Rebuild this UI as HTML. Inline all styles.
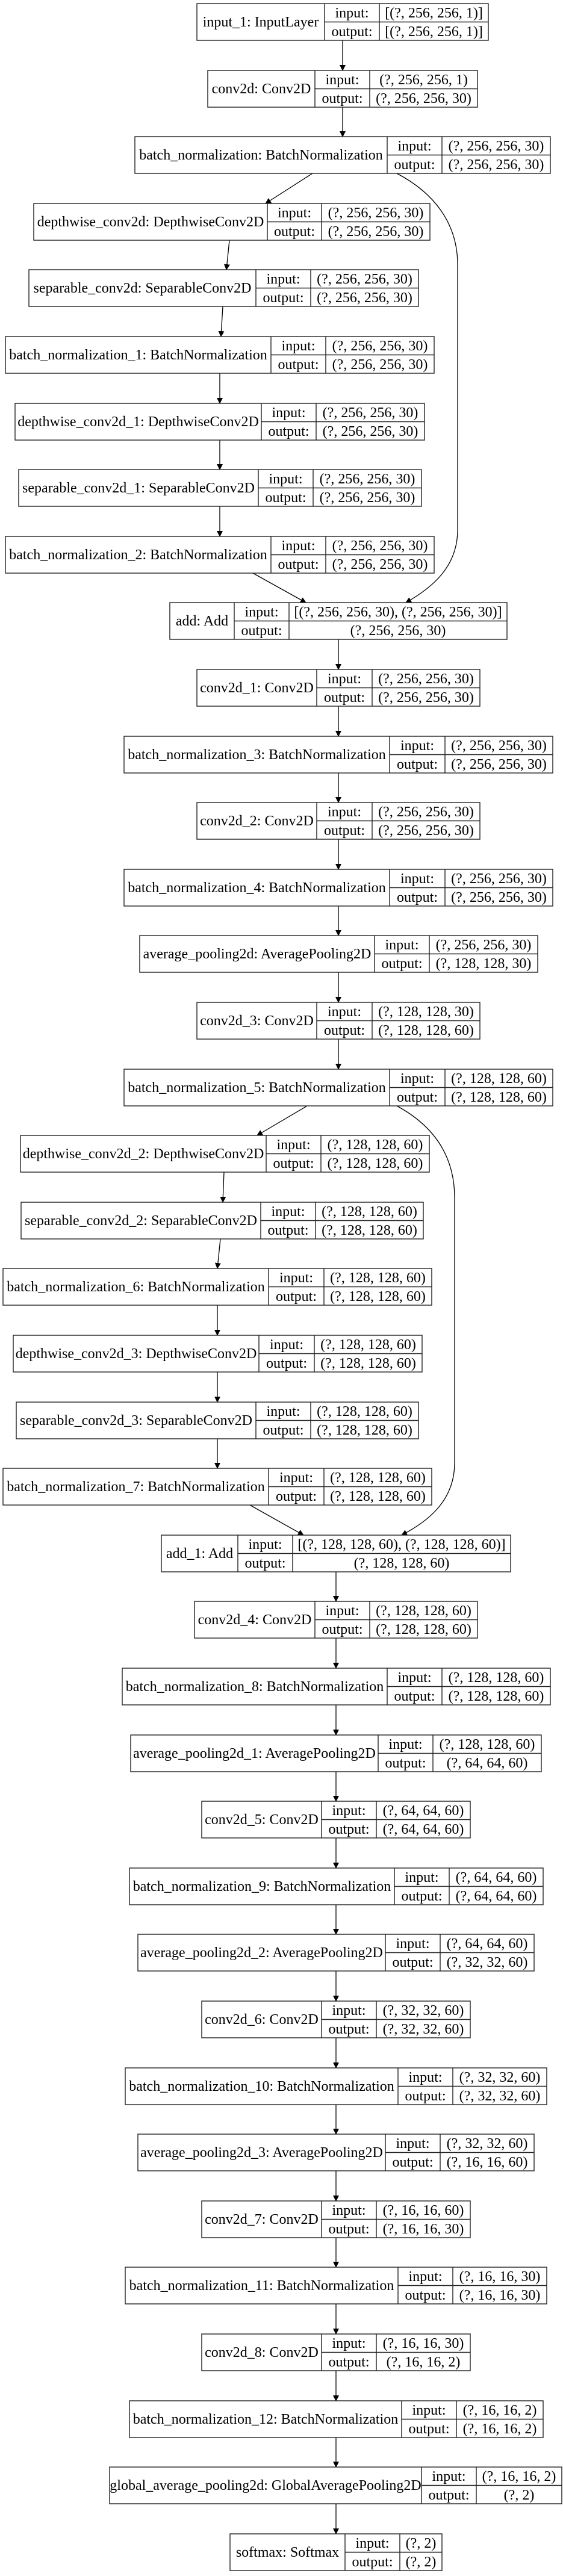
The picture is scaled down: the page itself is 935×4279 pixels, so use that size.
<!DOCTYPE html>
<html><head><meta charset="utf-8"><style>
html,body{margin:0;padding:0;background:#fff;}
svg{display:block}
text{font-family:"Liberation Serif",serif;font-size:24px;fill:#000;text-anchor:middle}
rect,line.b{fill:none;stroke:#222;stroke-width:1.4}
path.e{fill:none;stroke:#000;stroke-width:1.3}
</style></head><body>
<svg width="935" height="4279" viewBox="0 0 935 4279" xmlns="http://www.w3.org/2000/svg">
<defs><marker id="a" markerWidth="10" markerHeight="10" refX="9" refY="5" orient="auto" markerUnits="userSpaceOnUse"><path d="M0,0 L10,5 L0,10 z" fill="#000"/></marker></defs>

<path class="e" marker-end="url(#a)" d="M569,67 L569,117"/>
<path class="e" marker-end="url(#a)" d="M569,178 L569,227"/>
<path class="e" marker-end="url(#a)" d="M519,288 L441,338"/>
<path class="e" marker-end="url(#a)" d="M381,399 L376,448"/>
<path class="e" marker-end="url(#a)" d="M370,509 L367,559"/>
<path class="e" marker-end="url(#a)" d="M365,620 L365,670"/>
<path class="e" marker-end="url(#a)" d="M365,731 L365,780"/>
<path class="e" marker-end="url(#a)" d="M365,841 L365,891"/>
<path class="e" marker-end="url(#a)" d="M420,952 L508,1001"/>
<path class="e" marker-end="url(#a)" d="M659,288 C720,320 760,370 760,440 L760,880 C760,940 720,975 674,1001"/>
<path class="e" marker-end="url(#a)" d="M562,1062 L562,1112"/>
<path class="e" marker-end="url(#a)" d="M562,1173 L562,1223"/>
<path class="e" marker-end="url(#a)" d="M562,1284 L562,1333"/>
<path class="e" marker-end="url(#a)" d="M562,1394 L562,1444"/>
<path class="e" marker-end="url(#a)" d="M562,1505 L562,1554"/>
<path class="e" marker-end="url(#a)" d="M562,1615 L562,1665"/>
<path class="e" marker-end="url(#a)" d="M562,1726 L562,1776"/>
<path class="e" marker-end="url(#a)" d="M510,1837 L427,1886"/>
<path class="e" marker-end="url(#a)" d="M372,1947 L370,1997"/>
<path class="e" marker-end="url(#a)" d="M366,2058 L361,2107"/>
<path class="e" marker-end="url(#a)" d="M361,2168 L361,2218"/>
<path class="e" marker-end="url(#a)" d="M361,2279 L361,2329"/>
<path class="e" marker-end="url(#a)" d="M361,2390 L361,2439"/>
<path class="e" marker-end="url(#a)" d="M415,2500 L504,2550"/>
<path class="e" marker-end="url(#a)" d="M659,1837 C720,1870 755,1920 755,1990 L755,2430 C755,2490 715,2525 667,2550"/>
<path class="e" marker-end="url(#a)" d="M558,2611 L558,2660"/>
<path class="e" marker-end="url(#a)" d="M558,2721 L558,2771"/>
<path class="e" marker-end="url(#a)" d="M558,2832 L558,2882"/>
<path class="e" marker-end="url(#a)" d="M558,2943 L558,2992"/>
<path class="e" marker-end="url(#a)" d="M558,3053 L558,3103"/>
<path class="e" marker-end="url(#a)" d="M558,3164 L558,3213"/>
<path class="e" marker-end="url(#a)" d="M558,3274 L558,3324"/>
<path class="e" marker-end="url(#a)" d="M558,3385 L558,3435"/>
<path class="e" marker-end="url(#a)" d="M558,3496 L558,3545"/>
<path class="e" marker-end="url(#a)" d="M558,3606 L558,3656"/>
<path class="e" marker-end="url(#a)" d="M558,3717 L558,3766"/>
<path class="e" marker-end="url(#a)" d="M558,3827 L558,3877"/>
<path class="e" marker-end="url(#a)" d="M558,3938 L558,3988"/>
<path class="e" marker-end="url(#a)" d="M558,4049 L558,4098"/>
<path class="e" marker-end="url(#a)" d="M558,4159 L558,4209"/>

<g transform="translate(0,6)"><rect x="327" y="0" width="484" height="61"/><line class="b" x1="539" y1="0" x2="539" y2="61"/><line class="b" x1="630" y1="0" x2="630" y2="61"/><line class="b" x1="539" y1="30.5" x2="811" y2="30.5"/><text x="433" y="38">input_1: InputLayer</text><text x="584.5" y="23">input:</text><text x="584.5" y="54">output:</text><text x="720.5" y="23">[(?, 256, 256, 1)]</text><text x="720.5" y="54">[(?, 256, 256, 1)]</text></g>
<g transform="translate(0,117)"><rect x="345" y="0" width="448" height="61"/><line class="b" x1="523" y1="0" x2="523" y2="61"/><line class="b" x1="614" y1="0" x2="614" y2="61"/><line class="b" x1="523" y1="30.5" x2="793" y2="30.5"/><text x="434" y="38">conv2d: Conv2D</text><text x="568.5" y="23">input:</text><text x="568.5" y="54">output:</text><text x="703.5" y="23">(?, 256, 256, 1)</text><text x="703.5" y="54">(?, 256, 256, 30)</text></g>
<g transform="translate(0,227)"><rect x="224" y="0" width="690" height="61"/><line class="b" x1="643" y1="0" x2="643" y2="61"/><line class="b" x1="734" y1="0" x2="734" y2="61"/><line class="b" x1="643" y1="30.5" x2="914" y2="30.5"/><text x="433.5" y="38">batch_normalization: BatchNormalization</text><text x="688.5" y="23">input:</text><text x="688.5" y="54">output:</text><text x="824" y="23">(?, 256, 256, 30)</text><text x="824" y="54">(?, 256, 256, 30)</text></g>
<g transform="translate(0,338)"><rect x="56" y="0" width="658" height="61"/><line class="b" x1="444" y1="0" x2="444" y2="61"/><line class="b" x1="534" y1="0" x2="534" y2="61"/><line class="b" x1="444" y1="30.5" x2="714" y2="30.5"/><text x="250" y="38">depthwise_conv2d: DepthwiseConv2D</text><text x="489" y="23">input:</text><text x="489" y="54">output:</text><text x="624" y="23">(?, 256, 256, 30)</text><text x="624" y="54">(?, 256, 256, 30)</text></g>
<g transform="translate(0,448)"><rect x="48" y="0" width="647" height="61"/><line class="b" x1="425" y1="0" x2="425" y2="61"/><line class="b" x1="516" y1="0" x2="516" y2="61"/><line class="b" x1="425" y1="30.5" x2="695" y2="30.5"/><text x="236.5" y="38">separable_conv2d: SeparableConv2D</text><text x="470.5" y="23">input:</text><text x="470.5" y="54">output:</text><text x="605.5" y="23">(?, 256, 256, 30)</text><text x="605.5" y="54">(?, 256, 256, 30)</text></g>
<g transform="translate(0,559)"><rect x="9" y="0" width="712" height="61"/><line class="b" x1="450" y1="0" x2="450" y2="61"/><line class="b" x1="541" y1="0" x2="541" y2="61"/><line class="b" x1="450" y1="30.5" x2="721" y2="30.5"/><text x="229.5" y="38">batch_normalization_1: BatchNormalization</text><text x="495.5" y="23">input:</text><text x="495.5" y="54">output:</text><text x="631" y="23">(?, 256, 256, 30)</text><text x="631" y="54">(?, 256, 256, 30)</text></g>
<g transform="translate(0,670)"><rect x="25" y="0" width="680" height="61"/><line class="b" x1="434" y1="0" x2="434" y2="61"/><line class="b" x1="525" y1="0" x2="525" y2="61"/><line class="b" x1="434" y1="30.5" x2="705" y2="30.5"/><text x="229.5" y="38">depthwise_conv2d_1: DepthwiseConv2D</text><text x="479.5" y="23">input:</text><text x="479.5" y="54">output:</text><text x="615" y="23">(?, 256, 256, 30)</text><text x="615" y="54">(?, 256, 256, 30)</text></g>
<g transform="translate(0,780)"><rect x="31" y="0" width="669" height="61"/><line class="b" x1="429" y1="0" x2="429" y2="61"/><line class="b" x1="520" y1="0" x2="520" y2="61"/><line class="b" x1="429" y1="30.5" x2="700" y2="30.5"/><text x="230" y="38">separable_conv2d_1: SeparableConv2D</text><text x="474.5" y="23">input:</text><text x="474.5" y="54">output:</text><text x="610" y="23">(?, 256, 256, 30)</text><text x="610" y="54">(?, 256, 256, 30)</text></g>
<g transform="translate(0,891)"><rect x="9" y="0" width="712" height="61"/><line class="b" x1="450" y1="0" x2="450" y2="61"/><line class="b" x1="541" y1="0" x2="541" y2="61"/><line class="b" x1="450" y1="30.5" x2="721" y2="30.5"/><text x="229.5" y="38">batch_normalization_2: BatchNormalization</text><text x="495.5" y="23">input:</text><text x="495.5" y="54">output:</text><text x="631" y="23">(?, 256, 256, 30)</text><text x="631" y="54">(?, 256, 256, 30)</text></g>
<g transform="translate(0,1001)"><rect x="282" y="0" width="560" height="61"/><line class="b" x1="389" y1="0" x2="389" y2="61"/><line class="b" x1="480" y1="0" x2="480" y2="61"/><line class="b" x1="389" y1="30.5" x2="842" y2="30.5"/><text x="335.5" y="38">add: Add</text><text x="434.5" y="23">input:</text><text x="434.5" y="54">output:</text><text x="661" y="23">[(?, 256, 256, 30), (?, 256, 256, 30)]</text><text x="661" y="54">(?, 256, 256, 30)</text></g>
<g transform="translate(0,1112)"><rect x="327" y="0" width="470" height="61"/><line class="b" x1="526" y1="0" x2="526" y2="61"/><line class="b" x1="618" y1="0" x2="618" y2="61"/><line class="b" x1="526" y1="30.5" x2="797" y2="30.5"/><text x="426.5" y="38">conv2d_1: Conv2D</text><text x="572" y="23">input:</text><text x="572" y="54">output:</text><text x="707.5" y="23">(?, 256, 256, 30)</text><text x="707.5" y="54">(?, 256, 256, 30)</text></g>
<g transform="translate(0,1223)"><rect x="206" y="0" width="712" height="61"/><line class="b" x1="647" y1="0" x2="647" y2="61"/><line class="b" x1="739" y1="0" x2="739" y2="61"/><line class="b" x1="647" y1="30.5" x2="918" y2="30.5"/><text x="426.5" y="38">batch_normalization_3: BatchNormalization</text><text x="693" y="23">input:</text><text x="693" y="54">output:</text><text x="828.5" y="23">(?, 256, 256, 30)</text><text x="828.5" y="54">(?, 256, 256, 30)</text></g>
<g transform="translate(0,1333)"><rect x="327" y="0" width="470" height="61"/><line class="b" x1="526" y1="0" x2="526" y2="61"/><line class="b" x1="618" y1="0" x2="618" y2="61"/><line class="b" x1="526" y1="30.5" x2="797" y2="30.5"/><text x="426.5" y="38">conv2d_2: Conv2D</text><text x="572" y="23">input:</text><text x="572" y="54">output:</text><text x="707.5" y="23">(?, 256, 256, 30)</text><text x="707.5" y="54">(?, 256, 256, 30)</text></g>
<g transform="translate(0,1444)"><rect x="206" y="0" width="712" height="61"/><line class="b" x1="647" y1="0" x2="647" y2="61"/><line class="b" x1="739" y1="0" x2="739" y2="61"/><line class="b" x1="647" y1="30.5" x2="918" y2="30.5"/><text x="426.5" y="38">batch_normalization_4: BatchNormalization</text><text x="693" y="23">input:</text><text x="693" y="54">output:</text><text x="828.5" y="23">(?, 256, 256, 30)</text><text x="828.5" y="54">(?, 256, 256, 30)</text></g>
<g transform="translate(0,1554)"><rect x="232" y="0" width="661" height="61"/><line class="b" x1="622" y1="0" x2="622" y2="61"/><line class="b" x1="713" y1="0" x2="713" y2="61"/><line class="b" x1="622" y1="30.5" x2="893" y2="30.5"/><text x="427" y="38">average_pooling2d: AveragePooling2D</text><text x="667.5" y="23">input:</text><text x="667.5" y="54">output:</text><text x="803" y="23">(?, 256, 256, 30)</text><text x="803" y="54">(?, 128, 128, 30)</text></g>
<g transform="translate(0,1665)"><rect x="327" y="0" width="470" height="61"/><line class="b" x1="526" y1="0" x2="526" y2="61"/><line class="b" x1="618" y1="0" x2="618" y2="61"/><line class="b" x1="526" y1="30.5" x2="797" y2="30.5"/><text x="426.5" y="38">conv2d_3: Conv2D</text><text x="572" y="23">input:</text><text x="572" y="54">output:</text><text x="707.5" y="23">(?, 128, 128, 30)</text><text x="707.5" y="54">(?, 128, 128, 60)</text></g>
<g transform="translate(0,1776)"><rect x="206" y="0" width="712" height="61"/><line class="b" x1="647" y1="0" x2="647" y2="61"/><line class="b" x1="739" y1="0" x2="739" y2="61"/><line class="b" x1="647" y1="30.5" x2="918" y2="30.5"/><text x="426.5" y="38">batch_normalization_5: BatchNormalization</text><text x="693" y="23">input:</text><text x="693" y="54">output:</text><text x="828.5" y="23">(?, 128, 128, 60)</text><text x="828.5" y="54">(?, 128, 128, 60)</text></g>
<g transform="translate(0,1886)"><rect x="34" y="0" width="679" height="61"/><line class="b" x1="442" y1="0" x2="442" y2="61"/><line class="b" x1="533" y1="0" x2="533" y2="61"/><line class="b" x1="442" y1="30.5" x2="713" y2="30.5"/><text x="238" y="38">depthwise_conv2d_2: DepthwiseConv2D</text><text x="487.5" y="23">input:</text><text x="487.5" y="54">output:</text><text x="623" y="23">(?, 128, 128, 60)</text><text x="623" y="54">(?, 128, 128, 60)</text></g>
<g transform="translate(0,1997)"><rect x="35" y="0" width="668" height="61"/><line class="b" x1="433" y1="0" x2="433" y2="61"/><line class="b" x1="524" y1="0" x2="524" y2="61"/><line class="b" x1="433" y1="30.5" x2="703" y2="30.5"/><text x="234" y="38">separable_conv2d_2: SeparableConv2D</text><text x="478.5" y="23">input:</text><text x="478.5" y="54">output:</text><text x="613.5" y="23">(?, 128, 128, 60)</text><text x="613.5" y="54">(?, 128, 128, 60)</text></g>
<g transform="translate(0,2107)"><rect x="5" y="0" width="712" height="61"/><line class="b" x1="446" y1="0" x2="446" y2="61"/><line class="b" x1="538" y1="0" x2="538" y2="61"/><line class="b" x1="446" y1="30.5" x2="717" y2="30.5"/><text x="225.5" y="38">batch_normalization_6: BatchNormalization</text><text x="492" y="23">input:</text><text x="492" y="54">output:</text><text x="627.5" y="23">(?, 128, 128, 60)</text><text x="627.5" y="54">(?, 128, 128, 60)</text></g>
<g transform="translate(0,2218)"><rect x="22" y="0" width="679" height="61"/><line class="b" x1="430" y1="0" x2="430" y2="61"/><line class="b" x1="522" y1="0" x2="522" y2="61"/><line class="b" x1="430" y1="30.5" x2="701" y2="30.5"/><text x="226" y="38">depthwise_conv2d_3: DepthwiseConv2D</text><text x="476" y="23">input:</text><text x="476" y="54">output:</text><text x="611.5" y="23">(?, 128, 128, 60)</text><text x="611.5" y="54">(?, 128, 128, 60)</text></g>
<g transform="translate(0,2329)"><rect x="27" y="0" width="668" height="61"/><line class="b" x1="425" y1="0" x2="425" y2="61"/><line class="b" x1="516" y1="0" x2="516" y2="61"/><line class="b" x1="425" y1="30.5" x2="695" y2="30.5"/><text x="226" y="38">separable_conv2d_3: SeparableConv2D</text><text x="470.5" y="23">input:</text><text x="470.5" y="54">output:</text><text x="605.5" y="23">(?, 128, 128, 60)</text><text x="605.5" y="54">(?, 128, 128, 60)</text></g>
<g transform="translate(0,2439)"><rect x="5" y="0" width="712" height="61"/><line class="b" x1="446" y1="0" x2="446" y2="61"/><line class="b" x1="538" y1="0" x2="538" y2="61"/><line class="b" x1="446" y1="30.5" x2="717" y2="30.5"/><text x="225.5" y="38">batch_normalization_7: BatchNormalization</text><text x="492" y="23">input:</text><text x="492" y="54">output:</text><text x="627.5" y="23">(?, 128, 128, 60)</text><text x="627.5" y="54">(?, 128, 128, 60)</text></g>
<g transform="translate(0,2550)"><rect x="268" y="0" width="580" height="61"/><line class="b" x1="395" y1="0" x2="395" y2="61"/><line class="b" x1="486" y1="0" x2="486" y2="61"/><line class="b" x1="395" y1="30.5" x2="848" y2="30.5"/><text x="331.5" y="38">add_1: Add</text><text x="440.5" y="23">input:</text><text x="440.5" y="54">output:</text><text x="667" y="23">[(?, 128, 128, 60), (?, 128, 128, 60)]</text><text x="667" y="54">(?, 128, 128, 60)</text></g>
<g transform="translate(0,2660)"><rect x="323" y="0" width="470" height="61"/><line class="b" x1="523" y1="0" x2="523" y2="61"/><line class="b" x1="614" y1="0" x2="614" y2="61"/><line class="b" x1="523" y1="30.5" x2="793" y2="30.5"/><text x="423" y="38">conv2d_4: Conv2D</text><text x="568.5" y="23">input:</text><text x="568.5" y="54">output:</text><text x="703.5" y="23">(?, 128, 128, 60)</text><text x="703.5" y="54">(?, 128, 128, 60)</text></g>
<g transform="translate(0,2771)"><rect x="203" y="0" width="711" height="61"/><line class="b" x1="643" y1="0" x2="643" y2="61"/><line class="b" x1="734" y1="0" x2="734" y2="61"/><line class="b" x1="643" y1="30.5" x2="914" y2="30.5"/><text x="423" y="38">batch_normalization_8: BatchNormalization</text><text x="688.5" y="23">input:</text><text x="688.5" y="54">output:</text><text x="824" y="23">(?, 128, 128, 60)</text><text x="824" y="54">(?, 128, 128, 60)</text></g>
<g transform="translate(0,2882)"><rect x="217" y="0" width="682" height="61"/><line class="b" x1="628" y1="0" x2="628" y2="61"/><line class="b" x1="719" y1="0" x2="719" y2="61"/><line class="b" x1="628" y1="30.5" x2="899" y2="30.5"/><text x="422.5" y="38">average_pooling2d_1: AveragePooling2D</text><text x="673.5" y="23">input:</text><text x="673.5" y="54">output:</text><text x="809" y="23">(?, 128, 128, 60)</text><text x="809" y="54">(?, 64, 64, 60)</text></g>
<g transform="translate(0,2992)"><rect x="335" y="0" width="446" height="61"/><line class="b" x1="534" y1="0" x2="534" y2="61"/><line class="b" x1="625" y1="0" x2="625" y2="61"/><line class="b" x1="534" y1="30.5" x2="781" y2="30.5"/><text x="434.5" y="38">conv2d_5: Conv2D</text><text x="579.5" y="23">input:</text><text x="579.5" y="54">output:</text><text x="703" y="23">(?, 64, 64, 60)</text><text x="703" y="54">(?, 64, 64, 60)</text></g>
<g transform="translate(0,3103)"><rect x="215" y="0" width="687" height="61"/><line class="b" x1="655" y1="0" x2="655" y2="61"/><line class="b" x1="746" y1="0" x2="746" y2="61"/><line class="b" x1="655" y1="30.5" x2="902" y2="30.5"/><text x="435" y="38">batch_normalization_9: BatchNormalization</text><text x="700.5" y="23">input:</text><text x="700.5" y="54">output:</text><text x="824" y="23">(?, 64, 64, 60)</text><text x="824" y="54">(?, 64, 64, 60)</text></g>
<g transform="translate(0,3213)"><rect x="229" y="0" width="658" height="61"/><line class="b" x1="640" y1="0" x2="640" y2="61"/><line class="b" x1="731" y1="0" x2="731" y2="61"/><line class="b" x1="640" y1="30.5" x2="887" y2="30.5"/><text x="434.5" y="38">average_pooling2d_2: AveragePooling2D</text><text x="685.5" y="23">input:</text><text x="685.5" y="54">output:</text><text x="809" y="23">(?, 64, 64, 60)</text><text x="809" y="54">(?, 32, 32, 60)</text></g>
<g transform="translate(0,3324)"><rect x="335" y="0" width="446" height="61"/><line class="b" x1="534" y1="0" x2="534" y2="61"/><line class="b" x1="625" y1="0" x2="625" y2="61"/><line class="b" x1="534" y1="30.5" x2="781" y2="30.5"/><text x="434.5" y="38">conv2d_6: Conv2D</text><text x="579.5" y="23">input:</text><text x="579.5" y="54">output:</text><text x="703" y="23">(?, 32, 32, 60)</text><text x="703" y="54">(?, 32, 32, 60)</text></g>
<g transform="translate(0,3435)"><rect x="208" y="0" width="700" height="61"/><line class="b" x1="661" y1="0" x2="661" y2="61"/><line class="b" x1="752" y1="0" x2="752" y2="61"/><line class="b" x1="661" y1="30.5" x2="908" y2="30.5"/><text x="434.5" y="38">batch_normalization_10: BatchNormalization</text><text x="706.5" y="23">input:</text><text x="706.5" y="54">output:</text><text x="830" y="23">(?, 32, 32, 60)</text><text x="830" y="54">(?, 32, 32, 60)</text></g>
<g transform="translate(0,3545)"><rect x="229" y="0" width="658" height="61"/><line class="b" x1="640" y1="0" x2="640" y2="61"/><line class="b" x1="731" y1="0" x2="731" y2="61"/><line class="b" x1="640" y1="30.5" x2="887" y2="30.5"/><text x="434.5" y="38">average_pooling2d_3: AveragePooling2D</text><text x="685.5" y="23">input:</text><text x="685.5" y="54">output:</text><text x="809" y="23">(?, 32, 32, 60)</text><text x="809" y="54">(?, 16, 16, 60)</text></g>
<g transform="translate(0,3656)"><rect x="335" y="0" width="446" height="61"/><line class="b" x1="534" y1="0" x2="534" y2="61"/><line class="b" x1="625" y1="0" x2="625" y2="61"/><line class="b" x1="534" y1="30.5" x2="781" y2="30.5"/><text x="434.5" y="38">conv2d_7: Conv2D</text><text x="579.5" y="23">input:</text><text x="579.5" y="54">output:</text><text x="703" y="23">(?, 16, 16, 60)</text><text x="703" y="54">(?, 16, 16, 30)</text></g>
<g transform="translate(0,3766)"><rect x="208" y="0" width="700" height="61"/><line class="b" x1="661" y1="0" x2="661" y2="61"/><line class="b" x1="752" y1="0" x2="752" y2="61"/><line class="b" x1="661" y1="30.5" x2="908" y2="30.5"/><text x="434.5" y="38">batch_normalization_11: BatchNormalization</text><text x="706.5" y="23">input:</text><text x="706.5" y="54">output:</text><text x="830" y="23">(?, 16, 16, 30)</text><text x="830" y="54">(?, 16, 16, 30)</text></g>
<g transform="translate(0,3877)"><rect x="335" y="0" width="446" height="61"/><line class="b" x1="534" y1="0" x2="534" y2="61"/><line class="b" x1="625" y1="0" x2="625" y2="61"/><line class="b" x1="534" y1="30.5" x2="781" y2="30.5"/><text x="434.5" y="38">conv2d_8: Conv2D</text><text x="579.5" y="23">input:</text><text x="579.5" y="54">output:</text><text x="703" y="23">(?, 16, 16, 30)</text><text x="703" y="54">(?, 16, 16, 2)</text></g>
<g transform="translate(0,3988)"><rect x="215" y="0" width="687" height="61"/><line class="b" x1="667" y1="0" x2="667" y2="61"/><line class="b" x1="758" y1="0" x2="758" y2="61"/><line class="b" x1="667" y1="30.5" x2="902" y2="30.5"/><text x="441" y="38">batch_normalization_12: BatchNormalization</text><text x="712.5" y="23">input:</text><text x="712.5" y="54">output:</text><text x="830" y="23">(?, 16, 16, 2)</text><text x="830" y="54">(?, 16, 16, 2)</text></g>
<g transform="translate(0,4098)"><rect x="182" y="0" width="751" height="61"/><line class="b" x1="700" y1="0" x2="700" y2="61"/><line class="b" x1="791" y1="0" x2="791" y2="61"/><line class="b" x1="700" y1="30.5" x2="933" y2="30.5"/><text x="441" y="38">global_average_pooling2d: GlobalAveragePooling2D</text><text x="745.5" y="23">input:</text><text x="745.5" y="54">output:</text><text x="862" y="23">(?, 16, 16, 2)</text><text x="862" y="54">(?, 2)</text></g>
<g transform="translate(0,4209)"><rect x="382" y="0" width="352" height="61"/><line class="b" x1="573" y1="0" x2="573" y2="61"/><line class="b" x1="664" y1="0" x2="664" y2="61"/><line class="b" x1="573" y1="30.5" x2="734" y2="30.5"/><text x="477.5" y="38">softmax: Softmax</text><text x="618.5" y="23">input:</text><text x="618.5" y="54">output:</text><text x="699" y="23">(?, 2)</text><text x="699" y="54">(?, 2)</text></g>
</svg>
</body></html>
